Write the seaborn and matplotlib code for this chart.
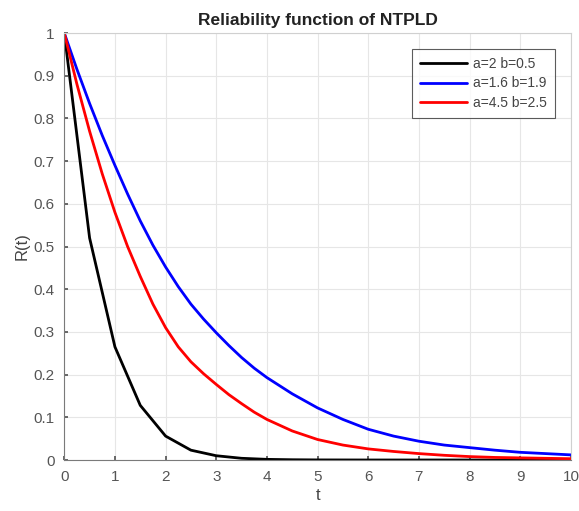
import matplotlib
matplotlib.use("Agg")
import matplotlib.pyplot as plt
import seaborn as sns
import pandas as pd
import numpy as np

# values
t_black = [0, 0.5, 1, 1.5, 2, 2.5, 3, 3.5, 4, 4.5, 5,
           5.5, 6, 6.5, 7, 7.5, 8, 8.5, 9, 9.5, 10]
r_black = [1.0, 0.52, 0.265, 0.128, 0.056, 0.023, 0.010, 0.004, 0.0015, 0.0006, 0.0002,
           0.0001, 0, 0, 0, 0, 0, 0, 0, 0, 0]

t_fine = [0, 0.25, 0.5, 0.75, 1, 1.25, 1.5, 1.75, 2, 2.25, 2.5, 2.75, 3,
          3.25, 3.5, 3.75, 4, 4.5, 5, 5.5, 6, 6.5, 7, 7.5, 8, 8.5, 9, 9.5, 10]
r_blue = [1.0, 0.915, 0.835, 0.76, 0.69, 0.623, 0.56, 0.503, 0.452, 0.406, 0.365, 0.33, 0.298,
          0.268, 0.24, 0.215, 0.193, 0.155, 0.122, 0.095, 0.072, 0.056, 0.044, 0.035,
          0.029, 0.023, 0.018, 0.015, 0.012]
r_red = [1.0, 0.88, 0.77, 0.67, 0.58, 0.50, 0.43, 0.365, 0.31, 0.265, 0.23, 0.202, 0.177,
         0.153, 0.132, 0.112, 0.095, 0.068, 0.048, 0.035, 0.026, 0.020, 0.015, 0.011,
         0.008, 0.006, 0.005, 0.004, 0.003]

labels = ["a=2 b=0.5", "a=1.6 b=1.9", "a=4.5 b=2.5"]
colors = ["black", "#0000ff", "#ff0000"]


def main():
    df = pd.concat([
        pd.DataFrame({"t": tt, "R": r, "curve": lab})
        for tt, r, lab in zip([t_black, t_fine, t_fine],
                              [r_black, r_blue, r_red], labels)
    ])

    sns.set_theme(style="whitegrid")
    plt.rcParams["font.family"] = ["Liberation Sans", "DejaVu Sans"]

    fig = plt.figure(figsize=(5.79, 5.11), dpi=100)
    ax = fig.add_axes([0.111, 0.0998, 0.875, 0.8356])
    sns.lineplot(data=df, x="t", y="R", hue="curve", palette=colors,
                 hue_order=labels, linewidth=2, ax=ax)

    ax.set_xlim(0, 10)
    ax.set_ylim(0, 1)
    ax.set_xticks(np.arange(0, 11, 1))
    ax.set_yticks(np.round(np.arange(0, 1.01, 0.1), 1))
    ax.set_yticklabels(["0", "0.1", "0.2", "0.3", "0.4", "0.5",
                        "0.6", "0.7", "0.8", "0.9", "1"])
    ax.set_facecolor("white")
    ax.grid(True, color="#e6e6e6", linewidth=0.8)
    for s in ax.spines.values():
        s.set_color("#d0d0d0")
        s.set_linewidth(0.8)
    ax.spines["left"].set_color("#7a7a7a")
    ax.spines["bottom"].set_color("#7a7a7a")
    ax.tick_params(direction="in", length=3, colors="#555555", labelsize=11,
                   pad=7, left=True, bottom=True)

    ax.set_title("Reliability function of NTPLD", fontsize=12.5,
                 fontweight="bold", color="#222222", pad=6)
    ax.set_xlabel("t", fontsize=12, color="#444444", labelpad=3)
    ax.set_ylabel("R(t)", fontsize=12, color="#444444", labelpad=3)

    leg = ax.legend(loc="upper right", bbox_to_anchor=(0.969, 0.963),
                    borderaxespad=0, fontsize=10, frameon=True, fancybox=False,
                    handlelength=3.4, borderpad=0.6, labelspacing=0.38,
                    handletextpad=0.4, title=None)
    leg.get_frame().set_edgecolor("#333333")
    leg.get_frame().set_linewidth(0.8)
    for txt in leg.get_texts():
        txt.set_color("#444444")

    fig.savefig("out.png", dpi=100)
    plt.close(fig)


if __name__ == "__main__":
    main()
